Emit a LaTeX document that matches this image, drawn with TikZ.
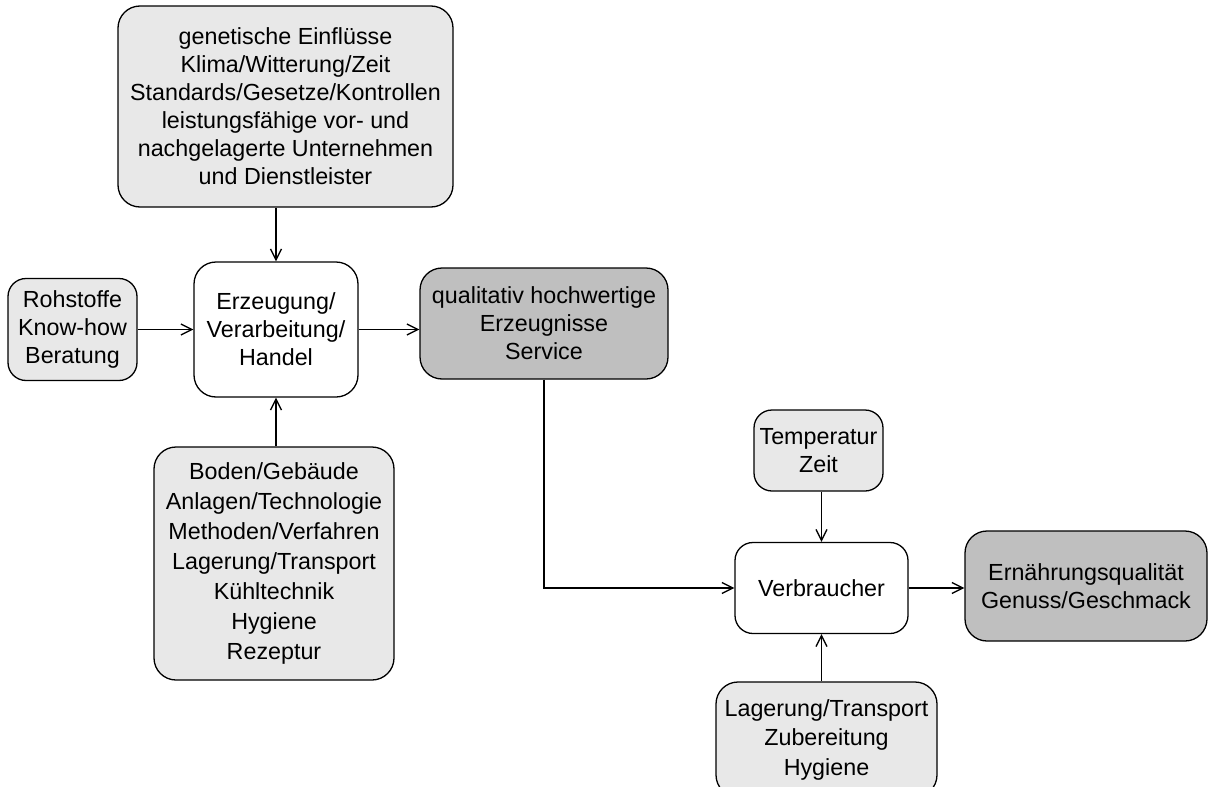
\documentclass[tikz,border=0pt]{standalone}
\usepackage{fontspec}
\setmainfont{Liberation Sans}
\usepackage{xcolor}
\usepackage{tikz}
\usetikzlibrary{arrows.meta}
\tikzstyle{box} = [rectangle, rounded corners=22pt, inner sep=0pt,
text centered, align=center,
line width=1.3pt,
font=\fontsize{23.3pt}{28pt}\selectfont,
draw=black]
\tikzstyle{hellbox} = [box, fill=gray!18]
\tikzstyle{dunkelbox} = [box, fill=gray!50]
\tikzstyle{weissbox} = [box, fill=white]
\tikzstyle{arrow} = [line width=1.3pt,-{Straight Barb[length=11pt,width=11pt]}]

\begin{document}
\begin{tikzpicture}[x=1pt,y=-1pt]
\clip (0,0) rectangle (1208,787);

% Einflussfaktoren oben
\node[hellbox, minimum width=335pt, minimum height=201pt] (einfluss) at (285.5,106.5)
{genetische Einflüsse\\Klima/Witterung/Zeit\\Standards/Gesetze/Kontrollen\\leistungsfähige vor- und\\nachgelagerte Unternehmen\\und Dienstleister};

% Erzeugung (Mitte links)
\node[weissbox, minimum width=164pt, minimum height=135pt] (erzeugung) at (276,329.5)
{Erzeugung/\\Verarbeitung/\\Handel};
\node[hellbox, rounded corners=18pt, minimum width=129pt, minimum height=102pt] (rohstoffe) at (72.5,329.5)
{Rohstoffe\\Know-how\\Beratung};
\node[dunkelbox, minimum width=248pt, minimum height=111pt] (erzeugnisse) at (544,323.5)
{qualitativ hochwertige\\Erzeugnisse\\Service};

% Ressourcen unten links
\node[hellbox, minimum width=240pt, minimum height=233pt,
font=\fontsize{23.3pt}{30pt}\selectfont] (ressourcen) at (274,563.5)
{Boden/Gebäude\\Anlagen/Technologie\\Methoden/Verfahren\\Lagerung/Transport\\Kühltechnik\\Hygiene\\Rezeptur};

% Verbraucher (rechts)
\node[hellbox, rounded corners=18pt, minimum width=129pt, minimum height=81pt] (temperatur) at (818.5,450.5)
{Temperatur\\Zeit};
\node[weissbox, rounded corners=18pt, minimum width=173pt, minimum height=91pt] (verbraucher) at (821.5,588)
{Verbraucher};
\node[dunkelbox, minimum width=242pt, minimum height=110pt] (ernaehrung) at (1086,586)
{Ernährungsqualität\\Genuss/Geschmack};
\node[hellbox, minimum width=221pt, minimum height=115pt,
font=\fontsize{23.3pt}{29.5pt}\selectfont] (umgang) at (826.5,739.5)
{Lagerung/Transport\\Zubereitung\\Hygiene};

% Pfeile
\draw[arrow] (erzeugung.north |- einfluss.south) -- (erzeugung.north);
\draw[arrow] (rohstoffe.east |- erzeugung.west) -- (erzeugung.west);
\draw[arrow] (erzeugung.east) -- (erzeugung.east -| erzeugnisse.west);
\draw[arrow] (erzeugung.south |- ressourcen.north) -- (erzeugung.south);
\draw[arrow] (erzeugnisse.south) |- (verbraucher.west);
\draw[arrow] (verbraucher.north |- temperatur.south) -- (verbraucher.north);
\draw[arrow] (verbraucher.east) -- (verbraucher.east -| ernaehrung.west);
\draw[arrow] (verbraucher.south |- umgang.north) -- (verbraucher.south);

\end{tikzpicture}
\end{document}
